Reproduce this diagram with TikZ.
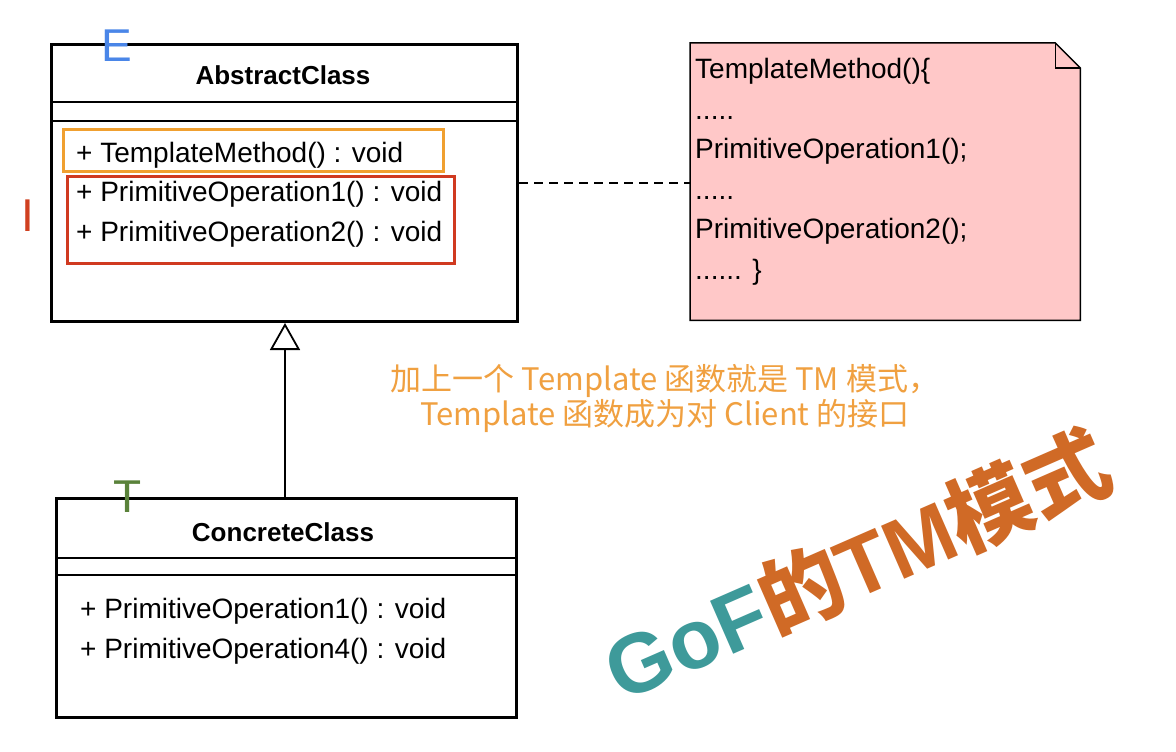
\documentclass[tikz,border=0pt]{standalone}
\usepackage{fontspec}
\setmainfont{Liberation Sans}
\newfontfamily\cjk{Noto Sans CJK SC}
\usetikzlibrary{arrows.meta}
\definecolor{eblue}{RGB}{74,134,232}
\definecolor{ired}{RGB}{208,64,32}
\definecolor{tgreen}{RGB}{90,130,58}
\definecolor{boxorange}{RGB}{240,160,48}
\definecolor{boxred}{RGB}{208,58,32}
\definecolor{notefill}{RGB}{255,200,200}
\definecolor{annot}{RGB}{240,160,64}
\definecolor{teal}{RGB}{62,154,154}
\definecolor{bigorange}{RGB}{208,106,38}
\begin{document}
\begin{tikzpicture}[x=1pt,y=-1pt,
  classbox/.style={draw=black, line width=3pt, anchor=north west, inner sep=0pt},
  sepline/.style={draw=black, line width=1.8pt},
  umltext/.style={font=\fontsize{28}{30}\selectfont, anchor=base west, inner sep=0pt},
  titletext/.style={font=\bfseries\fontsize{26}{30}\selectfont, inner sep=0pt},
  notetext/.style={font=\fontsize{28}{30}\selectfont, anchor=base west, inner sep=0pt},
  hlbox/.style={line width=3pt, anchor=north west, inner sep=0pt},
  letter/.style={font=\fontsize{46}{50}\selectfont, inner sep=0pt}]
\useasboundingbox[fill=white] (0,0) rectangle (1176,752);

% AbstractClass
\node[classbox, minimum width=466pt, minimum height=277pt] (abs) at (50,43) {};
\node[titletext] (absT) at (283,75) {AbstractClass};
\draw[sepline] (abs.west |- 0,102) -- (abs.east |- 0,102);
\draw[sepline] (abs.west |- 0,121) -- (abs.east |- 0,121);
\node[hlbox, draw=boxorange, minimum width=380pt, minimum height=42pt] (obox) at (62,128) {};
\node[hlbox, draw=boxred, minimum width=387pt, minimum height=87pt] (rbox) at (66,175) {};
\node[umltext] (m1) at (76,162) {+ TemplateMethod() : void};
\node[umltext] (m2) at (76,201) {+ PrimitiveOperation1() : void};
\node[umltext] (m3) at (76,241) {+ PrimitiveOperation2() : void};
\node[letter, text=eblue] (E) at (117,46) {E};
\node[letter, text=ired] (I) at (28,216) {I};

% Note
\node[anchor=north west, minimum width=390pt, minimum height=277pt, inner sep=0pt] (note) at (690,43) {};
\draw[line width=1.5pt, fill=notefill] (note.north west) -- ([xshift=-25pt]note.north east) -- ([yshift=-25pt]note.north east) -- (note.south east) -- (note.south west) -- cycle;
\draw[line width=1.5pt] ([xshift=-25pt]note.north east) -- ([xshift=-25pt,yshift=-25pt]note.north east) -- ([yshift=-25pt]note.north east);
\node[notetext] (n1) at (695,79) {TemplateMethod()\{};
\node[notetext] (n2) at (695,119) {.....};
\node[notetext] (n3) at (695,158) {PrimitiveOperation1();};
\node[notetext] (n4) at (695,199) {.....};
\node[notetext] (n5) at (695,238) {PrimitiveOperation2();};
\node[notetext] (n6) at (695,279) {...... \}};

\coordinate (dashA) at (abs.east |- 0,183);
\coordinate (dashB) at (note.west |- 0,183);
\draw[line width=1.5pt, dash pattern=on 9pt off 6pt] (dashA) -- (dashB);

% ConcreteClass
\node[classbox, minimum width=460pt, minimum height=219pt] (conc) at (55,497) {};
\node[titletext] (concT) at (283,532) {ConcreteClass};
\draw[sepline] (conc.west |- 0,558) -- (conc.east |- 0,558);
\draw[sepline] (conc.west |- 0,575) -- (conc.east |- 0,575);
\node[umltext] (c1) at (80,618) {+ PrimitiveOperation1() : void};
\node[umltext] (c2) at (80,658) {+ PrimitiveOperation4() : void};
\node[letter, text=tgreen] (T) at (128,497) {T};

% inheritance
\draw[line width=1.8pt, -{Triangle[open, length=27pt, width=30pt, line width=1.8pt]}] (conc.north -| 285,0) -- (abs.south -| 285,0);

% annotation
\node[font=\cjk\fontsize{31}{35}\selectfont, text=annot, align=center, inner sep=0pt] (ann) at (665,398) {加上一个 Template 函数就是 TM 模式，\\ Template 函数成为对 Client 的接口};

% big title
\node[rotate=23.6, inner sep=0pt, font=\bfseries\fontsize{84}{90}\selectfont] (big) at (857,565) {\textcolor{teal}{GoF}\textcolor{bigorange}{{\cjk\bfseries 的}TM{\cjk\bfseries 模式}}};
\end{tikzpicture}
\end{document}
